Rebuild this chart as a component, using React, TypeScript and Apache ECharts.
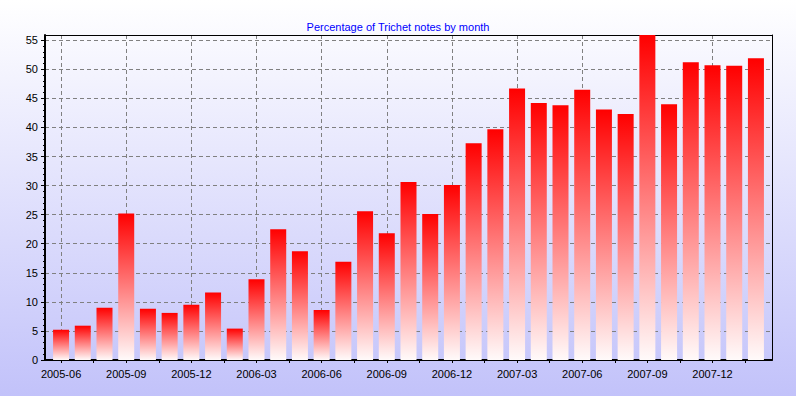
import React, { useEffect, useRef } from "react";
import * as echarts from "echarts";

const months: string[] = [
  "2005-06", "2005-07", "2005-08", "2005-09", "2005-10", "2005-11", "2005-12",
  "2006-01", "2006-02", "2006-03", "2006-04", "2006-05", "2006-06", "2006-07",
  "2006-08", "2006-09", "2006-10", "2006-11", "2006-12", "2007-01", "2007-02",
  "2007-03", "2007-04", "2007-05", "2007-06", "2007-07", "2007-08", "2007-09",
  "2007-10", "2007-11", "2007-12", "2008-01", "2008-02",
];

const percentages: number[] = [
  5.2, 5.9, 9.0, 25.2, 8.8, 8.1, 9.5, 11.6, 5.4, 13.9, 22.5, 18.7, 8.6, 16.9,
  25.6, 21.8, 30.6, 25.1, 30.1, 37.3, 39.7, 46.7, 44.2, 43.8, 46.5, 43.1, 42.3,
  55.9, 44.0, 51.2, 50.7, 50.6, 51.9,
];

const labelIndices: number[] = [0, 3, 6, 9, 12, 15, 18, 21, 24, 27, 30];
const tickPositions: number[] = [
  0, 1.5, 3, 4.5, 6, 7.5, 9, 10.5, 12, 13.5, 15, 16.5, 18, 19.5, 21, 22.5, 24,
  25.5, 27, 28.5, 30, 31.5,
];
const yTicks: number[] = [0, 5, 10, 15, 20, 25, 30, 35, 40, 45, 50, 55];

const FONT = "Liberation Sans, Arial, sans-serif";

export default function App() {
  const ref = useRef<HTMLDivElement>(null);

  useEffect(() => {
    if (!ref.current) return;
    const chart = echarts.init(ref.current, undefined, { renderer: "svg" });
    const xMin = -0.74;
    const xMax = months.length - 1 + 0.74;
    const dashed = { color: "#808080", width: 1, type: [4, 3] as number[] };

    chart.setOption({
      animation: false,
      backgroundColor: new echarts.graphic.LinearGradient(0, 0, 0, 1, [
        { offset: 0, color: "#ffffff" },
        { offset: 1, color: "#c2c2fa" },
      ]),
      title: {
        text: "Percentage of Trichet notes by month",
        left: "center",
        top: 16,
        textStyle: {
          color: "#0000ff",
          fontSize: 11,
          fontWeight: "normal",
          fontFamily: FONT,
        },
      },
      grid: { left: 45, right: 24, top: 35, bottom: 36, containLabel: false },
      xAxis: [
        {
          type: "value",
          min: xMin,
          max: xMax,
          position: "bottom",
          axisLine: { show: true, onZero: false, lineStyle: { color: "#000", width: 2 } },
          axisTick: {
            show: true,
            customValues: tickPositions,
            length: 3,
            lineStyle: { color: "#000" },
          },
          axisLabel: {
            customValues: labelIndices,
            formatter: (v: number) => months[Math.round(v)] ?? "",
            color: "#000",
            fontSize: 11,
            fontFamily: FONT,
            margin: 8,
          },
          splitLine: { show: false },
        },
        {
          type: "value",
          min: xMin,
          max: xMax,
          position: "top",
          axisLine: { show: true, onZero: false, lineStyle: { color: "#000", width: 1 } },
          axisTick: { show: false, customValues: labelIndices },
          axisLabel: { show: false, customValues: labelIndices },
          splitLine: { show: true, lineStyle: dashed },
        },
      ],
      yAxis: [
        {
          type: "value",
          min: 0,
          max: (v: { max: number }) => v.max,
          interval: 5,
          position: "left",
          axisLine: { show: true, onZero: false, lineStyle: { color: "#000", width: 2 } },
          axisTick: {
            show: true,
            length: 4,
            customValues: yTicks,
            lineStyle: { color: "#000" },
          },
          minorTick: { show: true, splitNumber: 5, length: 2, lineStyle: { color: "#000" } },
          axisLabel: {
            customValues: yTicks,
            color: "#000",
            fontSize: 11,
            fontFamily: FONT,
            margin: 7,
          },
          splitLine: { show: true, lineStyle: dashed },
        },
        {
          type: "value",
          min: 0,
          max: (v: { max: number }) => v.max,
          position: "right",
          axisLine: { show: true, onZero: false, lineStyle: { color: "#000", width: 1 } },
          axisTick: { show: false },
          axisLabel: { show: false },
          splitLine: { show: false },
        },
      ],
      series: [
        {
          type: "bar",
          xAxisIndex: 0,
          yAxisIndex: 0,
          barWidth: 16,
          data: percentages.map((v, i) => [i, v]),
          itemStyle: {
            color: new echarts.graphic.LinearGradient(0, 0, 0, 1, [
              { offset: 0, color: "#ff0000" },
              { offset: 1, color: "#fffafa" },
            ]),
          },
        },
        {
          type: "bar",
          xAxisIndex: 1,
          yAxisIndex: 1,
          data: [],
          silent: true,
        },
      ],
    });

    return () => chart.dispose();
  }, []);

  return (
    <div
      ref={ref}
      style={{ position: "absolute", left: 0, top: 0, width: 796, height: 396 }}
    />
  );
}
